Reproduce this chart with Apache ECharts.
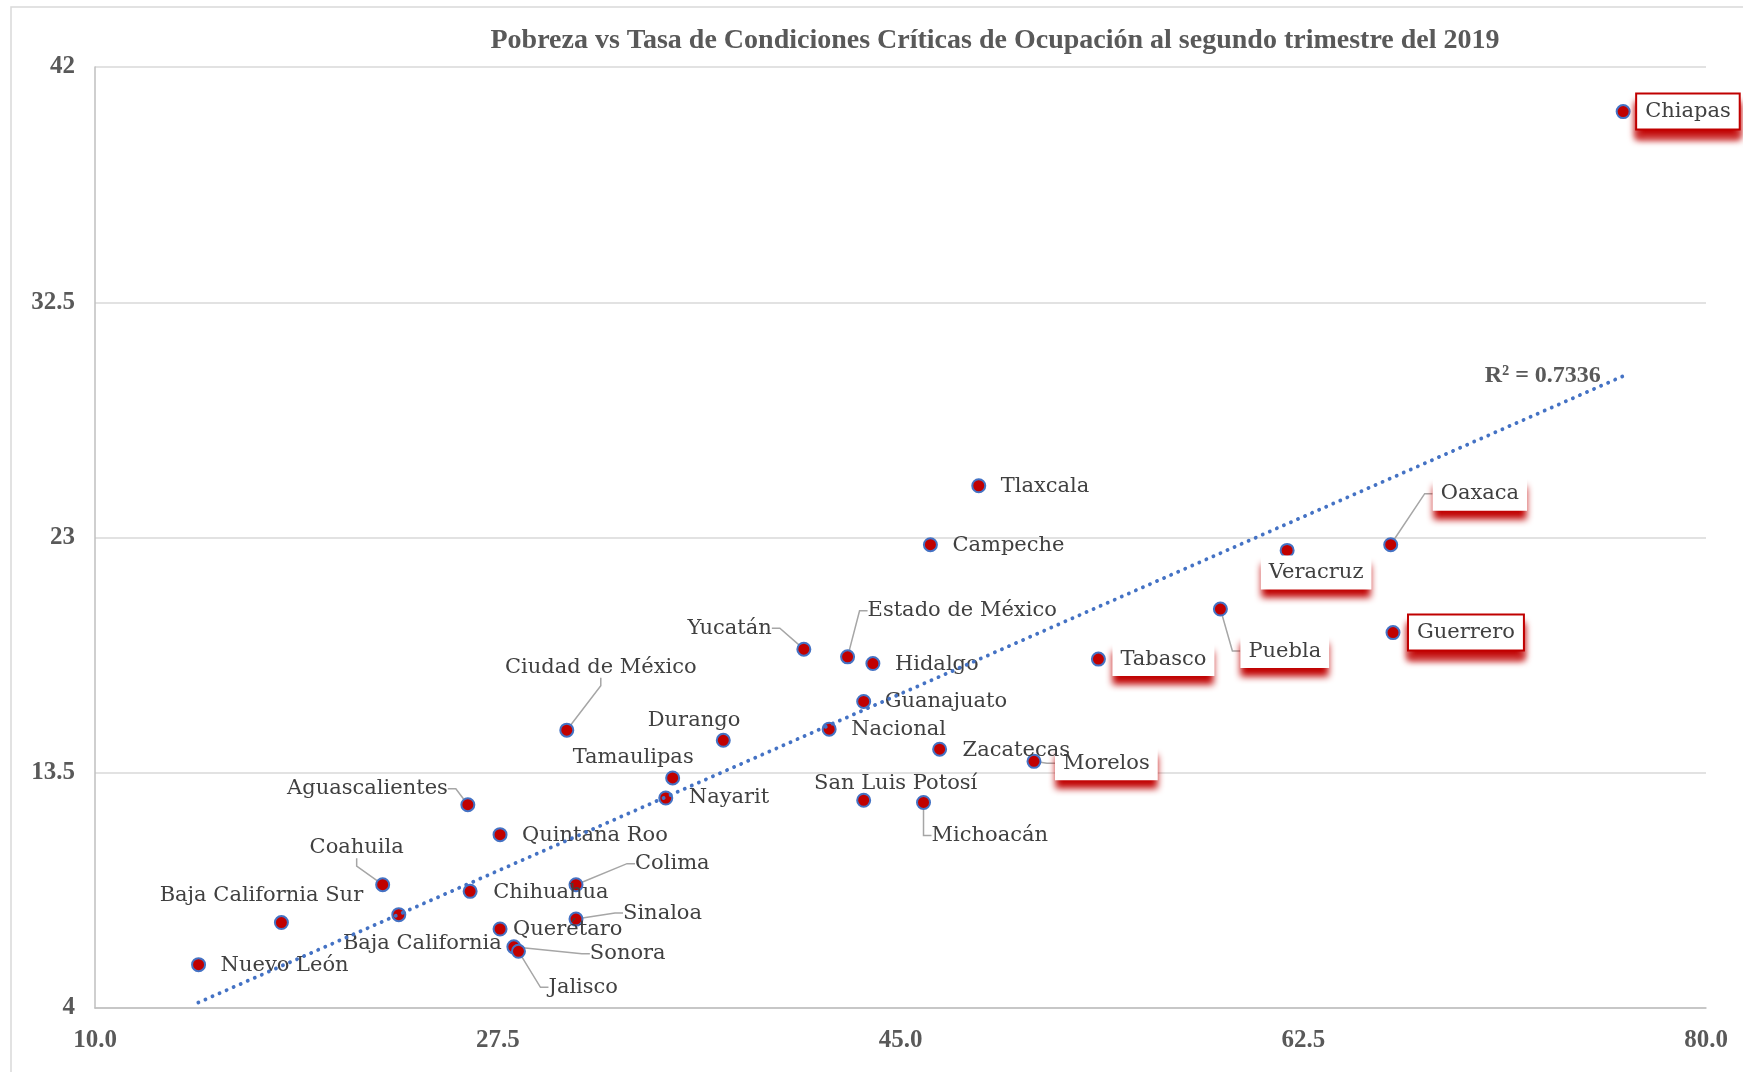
<!DOCTYPE html>
<html>
<head>
<meta charset="utf-8">
<title>Pobreza vs TCCO</title>
<script src="https://cdn.jsdelivr.net/npm/echarts@6/dist/echarts.min.js"></script>
<style>
    html, body {margin: 0; padding: 0; background: #fff;}
    #chart {width: 1743px; height: 1072px;}
</style>
</head>
<body>
<div id="chart"></div>
<script>
// datos: x = pobreza (%), y = TCCO (%)
var estados = ['Nuevo León', 'Baja California Sur', 'Coahuila', 'Baja California', 'Aguascalientes',
    'Chihuahua', 'Quintana Roo', 'Querétaro', 'Sonora', 'Jalisco', 'Ciudad de México', 'Colima',
    'Sinaloa', 'Nayarit', 'Tamaulipas', 'Durango', 'Yucatán', 'Nacional', 'Estado de México',
    'Guanajuato', 'San Luis Potosí', 'Hidalgo', 'Michoacán', 'Campeche', 'Morelos', 'Zacatecas',
    'Tlaxcala', 'Tabasco', 'Puebla', 'Veracruz', 'Oaxaca', 'Guerrero', 'Chiapas'];
var pobreza = [14.5, 18.1, 22.5, 23.2, 26.2, 26.3, 27.6, 27.6, 28.2, 28.4, 30.5, 30.9,
    30.9, 34.8, 35.1, 37.3, 40.8, 41.9, 42.7, 43.4, 43.4, 43.8, 46.0, 46.3, 50.8, 46.7,
    48.4, 53.6, 58.9, 61.8, 66.3, 66.4, 76.4];
var tcco = [5.75, 7.45, 8.98, 7.77, 12.21, 8.71, 11.0, 7.19, 6.47, 6.29, 15.22, 8.98,
    7.59, 12.48, 13.29, 14.81, 18.49, 15.26, 18.18, 16.38, 12.39, 17.91, 12.30, 22.71, 13.96, 14.45,
    25.09, 18.09, 20.11, 22.48, 22.71, 19.16, 40.20];
var destacados = ['Morelos', 'Tabasco', 'Puebla', 'Veracruz', 'Oaxaca', 'Guerrero', 'Chiapas'];
var conBorde = ['Guerrero', 'Chiapas'];
var conGuia = ['Aguascalientes', 'Coahuila', 'Ciudad de México', 'Yucatán', 'Estado de México',
    'Colima', 'Sinaloa', 'Sonora', 'Jalisco', 'Michoacán', 'Oaxaca', 'Puebla', 'Morelos'];
// linea de tendencia (extremos)
var tendenciaX = [14.49, 76.43];
var tendenciaY = [4.22, 29.53];
var r2Texto = 'R² = 0.7336';

// ubicacion de etiquetas respecto al punto: [dx, dy, alineacion]
var posEtiquetas = {
    'Nuevo León': [22, 1, 'left'],
    'Baja California Sur': [-20, -27, 'center'],
    'Coahuila': [-26, -37, 'center'],
    'Baja California': [103, 29, 'right'],
    'Aguascalientes': [-20, -16, 'right'],
    'Chihuahua': [23, 1, 'left'],
    'Quintana Roo': [22, 1, 'left'],
    'Querétaro': [13, 1, 'left'],
    'Sonora': [76, 7, 'left'],
    'Jalisco': [30, 36, 'left'],
    'Ciudad de México': [34, -63, 'center'],
    'Colima': [59, -21, 'left'],
    'Sinaloa': [47, -6, 'left'],
    'Nayarit': [23, 0, 'left'],
    'Tamaulipas': [21, -20, 'right'],
    'Durango': [17, -20, 'right'],
    'Yucatán': [-32, -21, 'right'],
    'Nacional': [22, 0, 'left'],
    'Estado de México': [20, -46, 'left'],
    'Guanajuato': [21, 0, 'left'],
    'San Luis Potosí': [32, -17, 'center'],
    'Hidalgo': [22, 1, 'left'],
    'Michoacán': [8, 33, 'left'],
    'Campeche': [22, 1, 'left'],
    'Zacatecas': [23, 1, 'left'],
    'Tlaxcala': [22, 1, 'left'],
    'Morelos': [21, 2, 'left'],
    'Tabasco': [14, 0, 'left'],
    'Puebla': [20, 42, 'left'],
    'Veracruz': [29, 22, 'center'],
    'Oaxaca': [42, -51, 'left'],
    'Guerrero': [16, 0, 'left'],
    'Chiapas': [14, 0, 'left']
};

var fuenteTexto = 'DejaVu Serif';
var fuenteEjes = 'Liberation Serif';

var puntos = estados.map(function (n, i) {
    var item = {name: n, value: [pobreza[i], tcco[i]]};
    if (destacados.indexOf(n) >= 0) {
        var borde = conBorde.indexOf(n) >= 0;
        item.label = {
            backgroundColor: '#ffffff',
            padding: [4, 8],
            lineHeight: 26,
            shadowColor: '#C00000',
            shadowBlur: 7,
            shadowOffsetY: 9,
            borderColor: borde ? '#C00000' : '#ffffff',
            borderWidth: borde ? 2 : 0
        };
    }
    if (conGuia.indexOf(n) >= 0) {
        item.labelLine = {show: true};
    }
    return item;
});

var myChart = echarts.init(document.getElementById('chart'));
var option = {
    backgroundColor: '#fff',
    animation: false,
    title: {
        text: 'Pobreza vs Tasa de Condiciones Críticas de Ocupación al segundo trimestre del 2019',
        left: 990, top: 22, textAlign: 'center',
        textStyle: {color: '#595959', fontFamily: fuenteEjes, fontWeight: 'bold', fontSize: 28}
    },
    graphic: [
        {type: 'rect', id: 'marco', shape: {x: 11, y: 7, width: 2400, height: 2400},
            style: {fill: 'none', stroke: '#D9D9D9', lineWidth: 1.5}, silent: true}
    ],
    grid: {left: 95, right: 37, top: 67, bottom: 64},
    xAxis: {
        type: 'value', min: 10, max: 80, interval: 17.5,
        axisLine: {show: true, lineStyle: {color: '#BFBFBF', width: 1.5}},
        axisTick: {show: false},
        splitLine: {show: false},
        axisLabel: {
            margin: 20, color: '#595959', fontFamily: fuenteEjes, fontWeight: 'bold', fontSize: 25,
            formatter: function (v) { return v.toFixed(1); }
        }
    },
    yAxis: {
        type: 'value', min: 4, max: 42, interval: 9.5,
        axisLine: {show: true, lineStyle: {color: '#BFBFBF', width: 1.5}},
        axisTick: {show: false},
        splitLine: {show: true, lineStyle: {color: '#D9D9D9', width: 1.5}},
        axisLabel: {margin: 20, color: '#595959', fontFamily: fuenteEjes, fontWeight: 'bold', fontSize: 25}
    },
    series: [
        {
            name: 'Estados',
            type: 'scatter',
            symbol: 'circle',
            symbolSize: 13,
            itemStyle: {color: '#C00000', borderColor: '#4472C4', borderWidth: 2, opacity: 1},
            data: puntos,
            label: {
                show: true, formatter: '{b}', position: 'right', opacity: 1,
                color: '#404040', fontFamily: fuenteTexto, fontSize: 21
            },
            labelLine: {show: false, length2: 8, lineStyle: {color: '#A6A6A6', width: 1.5, opacity: 1}},
            labelLayout: function (p) {
                var a = posEtiquetas[estados[p.dataIndex]];
                return {
                    x: p.rect.x + p.rect.width / 2 + a[0],
                    y: p.rect.y + p.rect.height / 2 + a[1],
                    align: a[2],
                    verticalAlign: 'middle'
                };
            },
            z: 2
        },
        {
            name: 'Tendencia',
            type: 'line',
            data: [[tendenciaX[0], tendenciaY[0]], [tendenciaX[1], tendenciaY[1]]],
            symbol: 'none',
            silent: true,
            lineStyle: {color: '#4472C4', width: 3.8, type: [0.1, 7.6], cap: 'round'},
            z: 3
        }
    ]
};
myChart.setOption(option);

// etiqueta del R2 junto al final de la linea de tendencia
var fin = myChart.convertToPixel({gridIndex: 0}, [tendenciaX[1], tendenciaY[1]]);
myChart.setOption({
    graphic: [
        {type: 'text', id: 'r2', x: fin[0] - 23, y: fin[1], silent: true,
            style: {text: r2Texto, align: 'right', verticalAlign: 'middle', fill: '#595959',
                font: 'bold 24px "Liberation Serif"'}}
    ]
});
</script>
</body>
</html>
